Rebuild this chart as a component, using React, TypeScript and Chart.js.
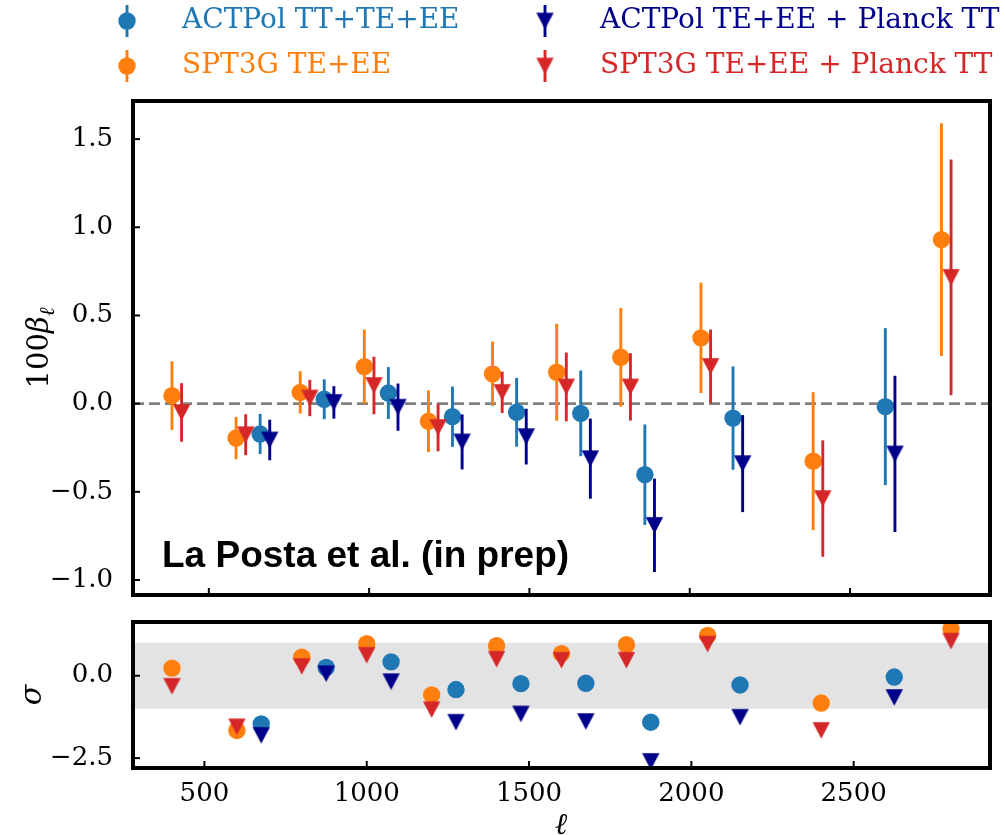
import React, { useEffect, useRef } from "react";
import { Chart, registerables } from "chart.js";

Chart.register(...registerables);

// ---- data ----
const SPT_ELL = [400, 600, 800, 1000, 1200, 1400, 1600, 1800, 2050, 2400, 2800];
const ACT_ELL = [675, 875, 1075, 1275, 1475, 1675, 1875, 2150, 2625];

// 100 * beta_ell and 1-sigma errors
const ACT_BETA = [-0.172, 0.025, 0.06, -0.074, -0.049, -0.055, -0.403, -0.082, -0.017];
const ACT_ERR = [0.114, 0.113, 0.147, 0.171, 0.195, 0.243, 0.285, 0.293, 0.445];
const SPT_BETA = [0.045, -0.195, 0.064, 0.21, -0.1, 0.169, 0.178, 0.263, 0.373, -0.326, 0.93];
const SPT_ERR = [0.195, 0.12, 0.12, 0.21, 0.175, 0.183, 0.275, 0.28, 0.313, 0.391, 0.66];
const ACTP_BETA = [-0.206, 0.007, -0.02, -0.217, -0.187, -0.312, -0.69, -0.34, -0.285];
const ACTP_ERR = [0.115, 0.092, 0.134, 0.156, 0.158, 0.227, 0.265, 0.275, 0.443];
const SPTP_BETA = [-0.05, -0.176, 0.032, 0.103, -0.135, 0.064, 0.095, 0.095, 0.211, -0.538, 0.716];
const SPTP_ERR = [0.166, 0.116, 0.103, 0.163, 0.135, 0.117, 0.195, 0.191, 0.209, 0.33, 0.668];

// significance (sigma) in the lower panel
const ACT_SIG = [-1.46, 0.25, 0.42, -0.42, -0.24, -0.23, -1.41, -0.28, -0.04];
const SPT_SIG = [0.23, -1.66, 0.56, 0.97, -0.58, 0.91, 0.67, 0.94, 1.22, -0.83, 1.43];
const ACTP_SIG = [-1.81, 0.06, -0.18, -1.41, -1.16, -1.39, -2.6, -1.26, -0.66];
const SPTP_SIG = [-0.32, -1.55, 0.28, 0.62, -1.03, 0.5, 0.47, 0.47, 0.96, -1.66, 1.05];

const X_TICKS = [500, 1000, 1500, 2000, 2500];
const TOP_Y_TICKS = [-1.0, -0.5, 0.0, 0.5, 1.0, 1.5];
const BOT_Y_TICKS = [-2.5, 0.0];
const SERIES_LABELS = [
  "ACTPol TT+TE+EE",
  "SPT3G TE+EE",
  "ACTPol TE+EE + Planck TT",
  "SPT3G TE+EE + Planck TT",
];
const ANNOTATION = "La Posta et al. (in prep)";

// ---- styles ----
const C_ACT = "#1f77b4";
const C_SPT = "#ff7f0e";
const C_ACTP = "#00008b";
const C_SPTP = "#d62728";
const SHIFT = 15;
const SERIF = "'DejaVu Serif', serif";
const ERR_LW = 2.9;
const CIRCLE_R = 8.7;

function triangleCanvas(color: string) {
  const c = document.createElement("canvas");
  c.width = 19;
  c.height = 19;
  const g = c.getContext("2d")!;
  g.fillStyle = color;
  g.beginPath();
  g.moveTo(0.8, 1.2);
  g.lineTo(18.2, 1.2);
  g.lineTo(9.5, 17.8);
  g.closePath();
  g.fill();
  return c;
}

const fmt = (v: number) => v.toFixed(1).replace("-", "\u2212");

function fixAxis(s: any, w?: number, h?: number) {
  if (w !== undefined) s.width = w;
  if (h !== undefined) s.height = h;
  s.paddingTop = 0;
  s.paddingBottom = 0;
  s.paddingLeft = 0;
  s.paddingRight = 0;
}

const errorBarPlugin = {
  id: "errbars",
  beforeDatasetDraw(chart: any, args: any) {
    const ds = chart.data.datasets[args.index];
    if (!ds.errors) return;
    const ys = chart.scales.y;
    const ctx = chart.ctx;
    const a = chart.chartArea;
    ctx.save();
    ctx.beginPath();
    ctx.rect(a.left, a.top, a.right - a.left, a.bottom - a.top);
    ctx.clip();
    ctx.strokeStyle = ds.backgroundColor;
    ctx.lineWidth = ERR_LW;
    args.meta.data.forEach((pt: any, j: number) => {
      const raw = ds.data[j];
      const e = ds.errors[j];
      ctx.beginPath();
      ctx.moveTo(pt.x, ys.getPixelForValue(raw.y + e));
      ctx.lineTo(pt.x, ys.getPixelForValue(raw.y - e));
      ctx.stroke();
    });
    ctx.restore();
  },
};

function frameAndTicks(chart: any, yTicks: number[]) {
  const ctx = chart.ctx;
  const a = chart.chartArea;
  const xs = chart.scales.x;
  const ys = chart.scales.y;
  ctx.save();
  ctx.strokeStyle = "#000";
  ctx.lineWidth = 2;
  X_TICKS.forEach((v) => {
    const px = xs.getPixelForValue(v);
    ctx.beginPath();
    ctx.moveTo(px, a.bottom);
    ctx.lineTo(px, a.bottom - 7);
    ctx.stroke();
  });
  yTicks.forEach((v) => {
    const py = ys.getPixelForValue(v);
    ctx.beginPath();
    ctx.moveTo(a.left, py);
    ctx.lineTo(a.left + 7, py);
    ctx.stroke();
  });
  ctx.lineWidth = 4;
  ctx.strokeRect(a.left, a.top, a.right - a.left, a.bottom - a.top);
  ctx.restore();
}

export default function App() {
  const topRef = useRef<HTMLCanvasElement>(null);
  const botRef = useRef<HTMLCanvasElement>(null);

  useEffect(() => {
    let top: Chart | null = null;
    let bot: Chart | null = null;
    let alive = true;

    const build = () => {
      if (!alive || !topRef.current || !botRef.current) return;
      const triACTP = triangleCanvas(C_ACTP);
      const triSPTP = triangleCanvas(C_SPTP);

      const pts = (ell: number[], vals: number[], shift: number) =>
        ell.map((l, i) => ({ x: l + shift, y: vals[i] }));

      const common = { borderWidth: 0, clip: 0, showLine: false } as any;

      const topPlugin = {
        id: "topDecor",
        beforeDatasetsDraw(chart: any) {
          const ctx = chart.ctx;
          const a = chart.chartArea;
          const py = chart.scales.y.getPixelForValue(0);
          ctx.save();
          ctx.strokeStyle = "#808080";
          ctx.lineWidth = 2.9;
          ctx.setLineDash([11, 5]);
          ctx.beginPath();
          ctx.moveTo(a.left, py);
          ctx.lineTo(a.right, py);
          ctx.stroke();
          ctx.restore();
        },
        afterDatasetsDraw(chart: any) {
          frameAndTicks(chart, TOP_Y_TICKS);
        },
        afterDraw(chart: any) {
          const ctx = chart.ctx;
          ctx.save();
          // legend
          const entries = [
            { x: 127, y: 21, color: C_ACT, tri: null, text: SERIES_LABELS[0] },
            { x: 127, y: 66, color: C_SPT, tri: null, text: SERIES_LABELS[1] },
            { x: 545, y: 21, color: C_ACTP, tri: triACTP, text: SERIES_LABELS[2] },
            { x: 545, y: 66, color: C_SPTP, tri: triSPTP, text: SERIES_LABELS[3] },
          ];
          entries.forEach((e) => {
            ctx.strokeStyle = e.color;
            ctx.fillStyle = e.color;
            ctx.lineWidth = ERR_LW;
            ctx.beginPath();
            ctx.moveTo(e.x, e.y - 16);
            ctx.lineTo(e.x, e.y + 16);
            ctx.stroke();
            if (e.tri) {
              ctx.drawImage(e.tri, e.x - 9.5, e.y - 9.5);
            } else {
              ctx.beginPath();
              ctx.arc(e.x, e.y, CIRCLE_R, 0, Math.PI * 2);
              ctx.fill();
            }
            ctx.font = `28px ${SERIF}`;
            ctx.textAlign = "left";
            ctx.textBaseline = "middle";
            ctx.fillText(e.text, e.x + 55, e.y);
          });
          // annotation
          ctx.fillStyle = "#000";
          ctx.font = "bold 37px 'Liberation Sans', Arial, sans-serif";
          ctx.textBaseline = "alphabetic";
          ctx.fillText(ANNOTATION, 162, 567);
          // y label 100 beta_ell
          ctx.translate(38, 348);
          ctx.rotate(-Math.PI / 2);
          const f1 = `29px ${SERIF}`;
          const f2 = `italic 29px ${SERIF}`;
          const f3 = `italic 21px ${SERIF}`;
          ctx.font = f1;
          const w1 = ctx.measureText("100").width;
          ctx.font = f2;
          const w2 = ctx.measureText("\u03b2").width;
          ctx.font = f3;
          const w3 = ctx.measureText("\u2113").width;
          let x0 = -(w1 + w2 + w3) / 2;
          ctx.font = f1;
          ctx.fillText("100", x0, 10);
          x0 += w1;
          ctx.font = f2;
          ctx.fillText("\u03b2", x0, 10);
          x0 += w2;
          ctx.font = f3;
          ctx.fillText("\u2113", x0, 16);
          ctx.restore();
        },
      };

      const botPlugin = {
        id: "botDecor",
        beforeDatasetsDraw(chart: any) {
          const ctx = chart.ctx;
          const a = chart.chartArea;
          const ys = chart.scales.y;
          const y1 = ys.getPixelForValue(1);
          const y2 = ys.getPixelForValue(-1);
          ctx.save();
          ctx.fillStyle = "#e3e3e3";
          ctx.fillRect(a.left, y1, a.right - a.left, y2 - y1);
          ctx.restore();
        },
        afterDatasetsDraw(chart: any) {
          frameAndTicks(chart, BOT_Y_TICKS);
        },
        afterDraw(chart: any) {
          const ctx = chart.ctx;
          ctx.save();
          ctx.fillStyle = "#000";
          ctx.font = `italic 30px ${SERIF}`;
          ctx.textAlign = "center";
          ctx.textBaseline = "alphabetic";
          ctx.fillText("\u2113", 561, 224);
          ctx.translate(33, 85);
          ctx.rotate(-Math.PI / 2);
          ctx.textBaseline = "middle";
          ctx.fillText("\u03c3", 0, 0);
          ctx.restore();
        },
      };

      const yTickOpts = (ticks: number[]) => ({
        afterBuildTicks: (s: any) => {
          s.ticks = ticks.map((v) => ({ value: v }));
        },
        ticks: {
          font: { family: SERIF, size: 26 },
          color: "#000",
          padding: 12,
          callback: (v: any) => fmt(Number(v)),
        },
        grid: { display: false },
        border: { display: false },
      });

      top = new Chart(topRef.current, {
        type: "scatter",
        data: {
          datasets: [
            { ...common, label: SERIES_LABELS[0], data: pts(ACT_ELL, ACT_BETA, -SHIFT), errors: ACT_ERR, backgroundColor: C_ACT, pointStyle: "circle", pointRadius: CIRCLE_R, order: 4 },
            { ...common, label: SERIES_LABELS[1], data: pts(SPT_ELL, SPT_BETA, -SHIFT), errors: SPT_ERR, backgroundColor: C_SPT, pointStyle: "circle", pointRadius: CIRCLE_R, order: 3 },
            { ...common, label: SERIES_LABELS[2], data: pts(ACT_ELL, ACTP_BETA, SHIFT), errors: ACTP_ERR, backgroundColor: C_ACTP, pointStyle: triACTP, pointRadius: 9, order: 2 },
            { ...common, label: SERIES_LABELS[3], data: pts(SPT_ELL, SPTP_BETA, SHIFT), errors: SPTP_ERR, backgroundColor: C_SPTP, pointStyle: triSPTP, pointRadius: 9, order: 1 },
          ] as any,
        },
        options: {
          animation: false,
          responsive: false,
          events: [],
          layout: { padding: { top: 101, right: 15, bottom: 15, left: 0 } },
          plugins: { legend: { display: false }, tooltip: { enabled: false } },
          scales: {
            x: {
              type: "linear",
              min: 263.5,
              max: 2936.5,
              display: false,
            },
            y: {
              type: "linear",
              min: -1.085,
              max: 1.716,
              ...yTickOpts(TOP_Y_TICKS),
              afterFit: (s: any) => fixAxis(s, 133),
            } as any,
          },
        },
        plugins: [errorBarPlugin, topPlugin],
      });

      bot = new Chart(botRef.current, {
        type: "scatter",
        data: {
          datasets: [
            { ...common, label: SERIES_LABELS[0], data: pts(ACT_ELL, ACT_SIG, 0), backgroundColor: C_ACT, pointStyle: "circle", pointRadius: CIRCLE_R, order: 4 },
            { ...common, label: SERIES_LABELS[1], data: pts(SPT_ELL, SPT_SIG, 0), backgroundColor: C_SPT, pointStyle: "circle", pointRadius: CIRCLE_R, order: 3 },
            { ...common, label: SERIES_LABELS[2], data: pts(ACT_ELL, ACTP_SIG, 0), backgroundColor: C_ACTP, pointStyle: triACTP, pointRadius: 9, order: 2 },
            { ...common, label: SERIES_LABELS[3], data: pts(SPT_ELL, SPTP_SIG, 0), backgroundColor: C_SPTP, pointStyle: triSPTP, pointRadius: 9, order: 1 },
          ] as any,
        },
        options: {
          animation: false,
          responsive: false,
          events: [],
          layout: { padding: { top: 12, right: 15, bottom: 0, left: 0 } },
          plugins: { legend: { display: false }, tooltip: { enabled: false } },
          scales: {
            x: {
              type: "linear",
              min: 280,
              max: 2920,
              afterBuildTicks: (s: any) => {
                s.ticks = X_TICKS.map((v) => ({ value: v }));
              },
              afterFit: (s: any) => fixAxis(s, undefined, 67),
              ticks: {
                font: { family: SERIF, size: 26 },
                color: "#000",
                padding: 3,
                maxRotation: 0,
                autoSkip: false,
                callback: (v: any) => String(v),
              },
              grid: { display: false },
              border: { display: false },
            } as any,
            y: {
              type: "linear",
              min: -2.8,
              max: 1.63,
              ...yTickOpts(BOT_Y_TICKS),
              afterFit: (s: any) => fixAxis(s, 133),
            } as any,
          },
        },
        plugins: [botPlugin],
      });
    };

    const fontsReady = (document as any).fonts
      ? Promise.all([
          (document as any).fonts.load(`28px 'DejaVu Serif'`),
          (document as any).fonts.load(`italic 28px 'DejaVu Serif'`),
          (document as any).fonts.load(`bold 36px 'Liberation Sans'`),
        ]).catch(() => null)
      : Promise.resolve(null);
    fontsReady.then(build);

    return () => {
      alive = false;
      if (top) top.destroy();
      if (bot) bot.destroy();
    };
  }, []);

  return (
    <div style={{ position: "absolute", left: 0, top: 0, width: 1005, height: 835, background: "#fff" }}>
      <canvas ref={topRef} width={1005} height={610} style={{ position: "absolute", left: 0, top: 0, width: 1005, height: 610 }} />
      <canvas ref={botRef} width={1005} height={225} style={{ position: "absolute", left: 0, top: 610, width: 1005, height: 225 }} />
    </div>
  );
}
